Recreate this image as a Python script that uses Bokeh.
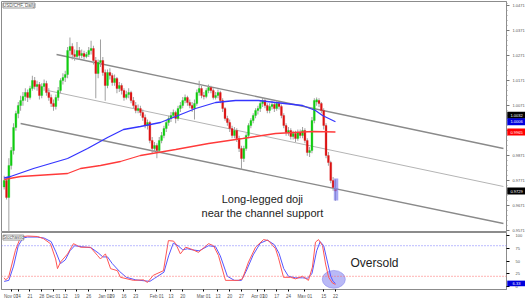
from bokeh.plotting import figure
from bokeh.layouts import column
from bokeh.models import FixedTicker, Label, Range1d, Span, BoxAnnotation, NumeralTickFormatter
from bokeh.core.properties import value
from bokeh.embed import file_html
from bokeh.resources import INLINE

# ---------------- data (USD/CHF daily) ----------------
opens = [0.9745, 0.9771, 0.9703, 0.9831, 0.9891, 0.9983, 1.0039, 1.0071, 1.0091, 1.0107,
         1.0123, 1.0103, 1.0139, 1.0171, 1.0147, 1.0155, 1.0111, 1.0147, 1.0159, 1.0123,
         1.0103, 1.0079, 1.0067, 1.0103, 1.0131, 1.0171, 1.0183, 1.0195, 1.0291, 1.0307,
         1.0275, 1.0267, 1.0291, 1.0271, 1.0279, 1.0267, 1.0275, 1.0291, 1.0299, 1.0251,
         1.0199, 1.0243, 1.0251, 1.0203, 1.0151, 1.0203, 1.0191, 1.0163, 1.0179, 1.0139,
         1.0151, 1.0131, 1.0103, 1.0115, 1.0123, 1.0091, 1.0071, 1.0051, 1.0059, 1.0043,
         1.0023, 0.9991, 1.0003, 0.9931, 0.9899, 0.9911, 0.9891, 0.9931, 0.9951, 0.9979,
         1.0003, 1.0019, 1.0031, 1.0043, 1.0019, 1.0059, 1.0071, 1.0091, 1.0103, 1.0083,
         1.0071, 1.0059, 1.0079, 1.0123, 1.0139, 1.0111, 1.0107, 1.0131, 1.0143, 1.0131,
         1.0103, 1.0111, 1.0123, 1.0091, 1.0059, 1.0019, 1.0003, 0.9979, 0.9951, 0.9971,
         0.9939, 0.9899, 0.9859, 0.9899, 0.9951, 0.9991, 1.0011, 1.0031, 1.0051, 1.0059,
         1.0079, 1.0091, 1.0071, 1.0051, 1.0067, 1.0075, 1.0059, 1.0079, 1.0067, 1.0031,
         0.9991, 0.9963, 0.9971, 0.9947, 0.9959, 0.9939, 0.9963, 0.9951, 0.9971, 0.9931,
         0.9883, 0.9891, 1.0011, 1.0085, 1.0091, 1.0079, 1.0051, 0.9991, 0.9871, 0.9843,
         0.9771, 0.9735]
highs = [0.9790, 0.9780, 0.9860, 0.9905, 1.0000, 1.0050, 1.0085, 1.0110, 1.0125, 1.0140,
         1.0135, 1.0150, 1.0190, 1.0185, 1.0170, 1.0165, 1.0160, 1.0175, 1.0170, 1.0140,
         1.0115, 1.0095, 1.0115, 1.0145, 1.0180, 1.0200, 1.0210, 1.0305, 1.0343, 1.0320,
         1.0295, 1.0325, 1.0305, 1.0295, 1.0290, 1.0285, 1.0305, 1.0330, 1.0310, 1.0265,
         1.0255, 1.0335, 1.0265, 1.0215, 1.0215, 1.0220, 1.0200, 1.0195, 1.0185, 1.0165,
         1.0160, 1.0140, 1.0130, 1.0140, 1.0130, 1.0105, 1.0085, 1.0075, 1.0070, 1.0055,
         1.0035, 1.0015, 1.0010, 0.9945, 0.9925, 0.9920, 0.9945, 0.9965, 0.9990, 1.0015,
         1.0030, 1.0045, 1.0055, 1.0050, 1.0070, 1.0085, 1.0105, 1.0115, 1.0110, 1.0095,
         1.0085, 1.0095, 1.0135, 1.0170, 1.0150, 1.0125, 1.0140, 1.0155, 1.0150, 1.0140,
         1.0125, 1.0135, 1.0130, 1.0100, 1.0065, 1.0030, 1.0015, 0.9990, 0.9985, 0.9980,
         0.9950, 0.9910, 0.9910, 0.9960, 1.0000, 1.0020, 1.0040, 1.0060, 1.0070, 1.0090,
         1.0103, 1.0100, 1.0080, 1.0080, 1.0090, 1.0085, 1.0090, 1.0085, 1.0075, 1.0040,
         1.0000, 0.9985, 0.9980, 0.9970, 0.9970, 0.9975, 0.9975, 0.9985, 0.9980, 0.9940,
         0.9905, 1.0025, 1.0100, 1.0103, 1.0100, 1.0085, 1.0060, 1.0000, 0.9885, 0.9850,
         0.9785, 0.9775]
lows = [0.9735, 0.9695, 0.9560, 0.9815, 0.9875, 0.9970, 1.0020, 1.0050, 1.0070, 1.0090,
        1.0085, 1.0095, 1.0130, 1.0135, 1.0130, 1.0095, 1.0100, 1.0130, 1.0110, 1.0090,
        1.0065, 1.0050, 1.0055, 1.0090, 1.0120, 1.0155, 1.0165, 1.0180, 1.0270, 1.0255,
        1.0250, 1.0255, 1.0255, 1.0260, 1.0255, 1.0260, 1.0265, 1.0275, 1.0235, 1.0100,
        1.0180, 1.0225, 1.0190, 1.0090, 1.0140, 1.0175, 1.0150, 1.0150, 1.0120, 1.0125,
        1.0115, 1.0090, 1.0095, 1.0100, 1.0080, 1.0060, 1.0040, 1.0040, 1.0030, 1.0010,
        0.9980, 0.9975, 0.9920, 0.9880, 0.9885, 0.9860, 0.9880, 0.9920, 0.9940, 0.9965,
        0.9990, 1.0005, 1.0020, 1.0000, 1.0010, 1.0045, 1.0060, 1.0080, 1.0070, 1.0060,
        1.0045, 1.0015, 1.0070, 1.0110, 1.0100, 1.0095, 1.0100, 1.0120, 1.0120, 1.0095,
        1.0095, 1.0100, 1.0080, 1.0045, 1.0010, 0.9990, 0.9965, 0.9940, 0.9940, 0.9925,
        0.9885, 0.9815, 0.9845, 0.9890, 0.9940, 0.9980, 1.0000, 1.0020, 1.0035, 1.0045,
        1.0065, 1.0060, 1.0040, 1.0040, 1.0055, 1.0045, 1.0050, 1.0055, 1.0020, 0.9980,
        0.9950, 0.9950, 0.9935, 0.9935, 0.9925, 0.9930, 0.9940, 0.9940, 0.9920, 0.9870,
        0.9865, 0.9880, 1.0000, 1.0070, 1.0065, 1.0040, 0.9975, 0.9860, 0.9830, 0.9760,
        0.9730, 0.9690]
closes = [0.9771, 0.9703, 0.9831, 0.9891, 0.9983, 1.0039, 1.0071, 1.0091, 1.0107, 1.0123,
          1.0103, 1.0139, 1.0171, 1.0147, 1.0155, 1.0111, 1.0147, 1.0159, 1.0123, 1.0103,
          1.0079, 1.0067, 1.0103, 1.0131, 1.0171, 1.0183, 1.0195, 1.0291, 1.0307, 1.0275,
          1.0267, 1.0291, 1.0271, 1.0279, 1.0267, 1.0275, 1.0291, 1.0299, 1.0251, 1.0199,
          1.0243, 1.0251, 1.0203, 1.0151, 1.0203, 1.0191, 1.0163, 1.0179, 1.0139, 1.0151,
          1.0131, 1.0103, 1.0115, 1.0123, 1.0091, 1.0071, 1.0051, 1.0059, 1.0043, 1.0023,
          0.9991, 1.0003, 0.9931, 0.9899, 0.9911, 0.9891, 0.9931, 0.9951, 0.9979, 1.0003,
          1.0019, 1.0031, 1.0043, 1.0019, 1.0059, 1.0071, 1.0091, 1.0103, 1.0083, 1.0071,
          1.0059, 1.0079, 1.0123, 1.0139, 1.0111, 1.0107, 1.0131, 1.0143, 1.0131, 1.0103,
          1.0111, 1.0123, 1.0091, 1.0059, 1.0019, 1.0003, 0.9979, 0.9951, 0.9971, 0.9939,
          0.9899, 0.9859, 0.9899, 0.9951, 0.9991, 1.0011, 1.0031, 1.0051, 1.0059, 1.0079,
          1.0091, 1.0071, 1.0051, 1.0067, 1.0075, 1.0059, 1.0079, 1.0067, 1.0031, 0.9991,
          0.9963, 0.9971, 0.9947, 0.9959, 0.9939, 0.9963, 0.9951, 0.9971, 0.9931, 0.9883,
          0.9891, 1.0011, 1.0091, 1.0094, 1.0079, 1.0051, 0.9991, 0.9871, 0.9843, 0.9771,
          0.9743, 0.9729]

# moving averages (read at sampled candle positions)
ma_blue_x = [0, 2.7, 12.5, 27, 35.5, 44, 50.8, 58, 66.5, 73, 81.5, 90, 98.5, 108.3, 115.5, 127, 132.5, 135.5, 141]
ma_blue = [0.9781, 0.9787, 0.9819, 0.9859, 0.9899, 0.9943, 0.9975, 0.9987, 1.0003, 1.0027,
           1.0059, 1.0083, 1.0091, 1.0091, 1.0083, 1.0071, 1.0051, 1.0031, 1.0006]
ma_red_x = [0, 7, 27, 32.5, 41, 49.5, 58, 73, 87, 101.5, 115.5, 131.3, 141]
ma_red = [0.9775, 0.9787, 0.9799, 0.9819, 0.9831, 0.9847, 0.9871, 0.9895, 0.9919, 0.9939,
          0.9959, 0.9967, 0.9965]

# channel (start/end candle position and price)
chan_x0 = [22.3, 18.5, 7.0]
chan_y0 = [1.0275, 1.0131, 0.9999]
chan_x1 = [212.5, 212.5, 212.5]
chan_y1 = [0.9899, 0.9747, 0.9599]

# stochastic %K (red) and %D (blue)
stoch_k_x = [0, 0.6, 1.9, 4.8, 7, 9.9, 14.2, 16.7, 19.7, 21.9, 22.7, 24, 27, 29.5, 32.5, 36.7,
             39.7, 41, 43.1, 45.3, 48.2, 49.5, 55.1, 59.3, 61, 63.5, 67.8, 69.9, 72.1, 73, 75,
             77.2, 79.3, 82.7, 87, 89.1, 91.2, 94.2, 99.7, 101.4, 104, 107, 110.4, 112.5, 115.5,
             116.7, 118.9, 121.9, 124, 127, 129.5, 131.2, 132.5, 133.8, 135.5, 136.8, 138.1,
             139.7, 141]
stoch_k = [17, 13, 18, 71, 97, 99, 98, 94, 84, 54, 35, 48, 64, 84, 77, 77,
           61, 54, 64, 35, 31, 18, 12, 13, 8, 22, 31, 90, 89, 84, 64,
           77, 74, 67, 84, 80, 61, 12, 12, 15, 48, 77, 92, 90, 74,
           57, 18, 18, 15, 20, 12, 38, 87, 92, 80, 44, 18,
           7, 4]
stoch_d_x = [0, 2, 4, 6, 8, 10, 14, 17, 20, 22, 24, 26, 28, 30, 33, 37, 40, 42, 44, 46, 49, 52,
             56, 60, 62, 64, 68, 70, 72, 74, 76, 78, 80, 83, 87, 90, 92, 95, 98, 101, 103, 106,
             109, 112, 115, 117, 119, 121, 124, 127, 129, 131, 133, 134.5, 136, 137.5, 139,
             140, 141]
stoch_d = [10, 12, 40, 80, 95, 97, 97, 95, 88, 68, 45, 52, 70, 80, 78, 76, 66, 58, 58, 45, 30, 18,
           13, 11, 10, 16, 28, 60, 85, 80, 72, 74, 72, 70, 80, 78, 60, 20, 12, 12, 30, 62,
           85, 91, 82, 65, 35, 20, 17, 17, 16, 25, 70, 88, 80, 50, 20,
           10, 6]

x_tick_idx = [0, 5, 10, 15, 18, 25, 30, 35, 40, 45, 50, 55, 62, 70, 75, 82, 90, 95, 100,
              105, 110, 115, 120, 125, 135, 140]
x_tick_labels = ["Nov 07", "14", "21", "28", "Dec 01", "12", "19", "26", "Jan 02", "09", "16",
                 "23", "Feb 01", "13", "20", "Mar 01", "13", "20", "27", "Apr 03", "10", "17",
                 "24", "May 01", "15", "22"]
price_ticks = [1.0471, 1.0371, 1.0271, 1.0171, 1.0071, 0.9971, 0.9871, 0.9771, 0.9671, 0.9571]
stoch_ticks = [0, 25, 50, 75, 100]
marker_text = ["1.0032", "1.0006", "0.9965", "0.9729"]
marker_vals = [1.0032, 1.0006, 0.9965, 0.9729]
marker_cols = ["black", "#0000dd", "#ff0000", "black"]
stoch_marker_text = ["6.33"]
stoch_marker_vals = [6]

FONT = "Liberation Sans"
GREEN = "#11cc11"
RED = "#dd1111"

X0, X1 = -1.13, 213.8
FW = 505
PX = (X1 - X0) / FW          # data units per pixel along x
xr = Range1d(X0, X1)
AX_X = X1 + 10 * PX          # centre of the right-hand label column

# ---------------- price panel ----------------
p = figure(frame_width=FW, frame_height=230, x_range=xr, y_range=Range1d(0.9567, 1.0487),
           output_backend="svg", toolbar_location=None, y_axis_location="right",
           x_axis_location=None, min_border_left=1, min_border_top=1, min_border_bottom=1,
           min_border_right=0, background_fill_color="white", border_fill_color="white")
p.grid.visible = False
p.outline_line_color = "#8c8c8c"

idx = list(range(len(closes)))
tops = [max(o, c) for o, c in zip(opens, closes)]
bots = [min(o, c) for o, c in zip(opens, closes)]
cols = [GREEN if c >= o else RED for o, c in zip(opens, closes)]

p.segment(chan_x0[0:1], chan_y0[0:1], chan_x1[0:1], chan_y1[0:1], line_color="#8a8a8a", line_width=1.3)
p.segment(chan_x0[1:2], chan_y0[1:2], chan_x1[1:2], chan_y1[1:2], line_color="#b4b4b4", line_width=1)
p.segment(chan_x0[2:3], chan_y0[2:3], chan_x1[2:3], chan_y1[2:3], line_color="#8a8a8a", line_width=1.3)

p.segment(idx, highs, idx, lows, line_color="#a0a0a0", line_width=1)
p.vbar(x=idx, width=0.8, top=tops, bottom=bots, fill_color=cols, line_color=cols, line_width=0.3)

p.line(ma_red_x, ma_red, line_color="#ff3a3a", line_width=1.3)
p.line(ma_blue_x, ma_blue, line_color="#3535ff", line_width=1.3)

p.add_layout(BoxAnnotation(left=140.3, right=142.2, top=0.9779, bottom=0.9691,
                           fill_color="#7777ee", fill_alpha=0.65, line_color=None))

yax = p.yaxis[0]
minor = [round(t - j * 0.002, 4) for t in price_ticks for j in range(1, 5)] + [1.0481]
yax.ticker = FixedTicker(ticks=price_ticks, minor_ticks=minor)
yax.formatter = NumeralTickFormatter(format="0.0000")
yax.major_label_text_font_size = "4px"
yax.major_label_text_font = FONT
yax.major_label_text_color = "#555555"
yax.axis_line_color = "#8c8c8c"
yax.major_tick_out = 3
yax.major_tick_in = 0
yax.minor_tick_out = 1
yax.minor_tick_in = 0
yax.major_tick_line_color = "#777777"
yax.minor_tick_line_color = "#999999"
yax.major_label_standoff = 3

# current-value boxes on the price scale
p.rect(x=[AX_X] * len(marker_vals), y=marker_vals, width=18.5 * PX, height=0.0028,
       fill_color=marker_cols, line_color=None, level="overlay")
p.text(x=[AX_X] * len(marker_vals), y=marker_vals, text=marker_text, text_align="center",
       text_baseline="middle", text_font=value(FONT), text_font_size="4px",
       text_color="white", level="overlay")

p.add_layout(Label(x=-0.5, y=1.0471, text="USD/CHF, Daily", text_align="left",
                   text_baseline="middle", text_font=FONT, text_font_size="4.5px",
                   text_color="#555555", background_fill_color="white",
                   border_line_color="#999999"))

p.add_layout(Label(x=109.9, y=0.9699, text="Long-legged doji", text_align="center",
                   text_baseline="middle", text_font=FONT, text_font_size="11px",
                   text_color="#222222"))
p.add_layout(Label(x=109.9, y=0.9643, text="near the channel support", text_align="center",
                   text_baseline="middle", text_font=FONT, text_font_size="11px",
                   text_color="#222222"))

# ---------------- stochastic panel ----------------
s = figure(frame_width=FW, frame_height=57, x_range=xr, y_range=Range1d(-5.9, 105.9),
           output_backend="svg", toolbar_location=None, y_axis_location="right",
           min_border_left=1, min_border_top=0, min_border_bottom=0, min_border_right=0,
           background_fill_color="white", border_fill_color="white")
s.grid.visible = False
s.outline_line_color = "#8c8c8c"

s.add_layout(Span(location=80, dimension="width", line_color="#7777ff", line_dash="1 2", line_width=1))
s.add_layout(Span(location=20, dimension="width", line_color="#ff6666", line_dash="1 2", line_width=1))

s.ellipse(x=[140.3], y=[14], width=9.8, height=35, fill_color="#8080ee", fill_alpha=0.55,
          line_color="#8080ee", line_alpha=0.5)

s.line(stoch_d_x, stoch_d, line_color="#5555ff", line_width=1)
s.line(stoch_k_x, stoch_k, line_color="#ff5555", line_width=1)

s.add_layout(Label(x=147.4, y=47, text="Oversold", text_align="left", text_baseline="middle",
                   text_font=FONT, text_font_size="12px", text_color="#222222"))
s.add_layout(Label(x=-0.5, y=96, text="Stochastic", text_align="left", text_baseline="middle",
                   text_font=FONT, text_font_size="4.5px", text_color="#555555",
                   background_fill_color="white", border_line_color="#999999"))

s.rect(x=[AX_X], y=stoch_marker_vals, width=18.5 * PX, height=11, fill_color="#0000dd",
       line_color=None, level="overlay")
s.text(x=[AX_X], y=stoch_marker_vals, text=stoch_marker_text, text_align="center",
       text_baseline="middle", text_font=value(FONT), text_font_size="4px",
       text_color="white", level="overlay")

sy = s.yaxis[0]
sy.ticker = FixedTicker(ticks=stoch_ticks)
sy.major_label_text_font_size = "4px"
sy.major_label_text_font = FONT
sy.major_label_text_color = "#555555"
sy.axis_line_color = "#8c8c8c"
sy.major_tick_out = 3
sy.major_tick_in = 0
sy.minor_tick_line_color = None
sy.major_label_standoff = 6

tick_pos = [round(i + len(lbl) * 0.49, 2) for i, lbl in zip(x_tick_idx, x_tick_labels)]
sx = s.xaxis[0]
sx.ticker = FixedTicker(ticks=tick_pos)
sx.major_label_overrides = {t: lbl for t, lbl in zip(tick_pos, x_tick_labels)}
sx.major_label_text_font_size = "4.5px"
sx.major_label_text_font = FONT
sx.major_label_text_color = "#555555"
sx.axis_line_color = "#8c8c8c"
sx.major_tick_out = 2
sx.major_tick_in = 0
sx.minor_tick_line_color = None
sx.major_label_standoff = 2

layout = column(p, s, spacing=0)
open("out.html", "w").write(file_html(layout, INLINE))
